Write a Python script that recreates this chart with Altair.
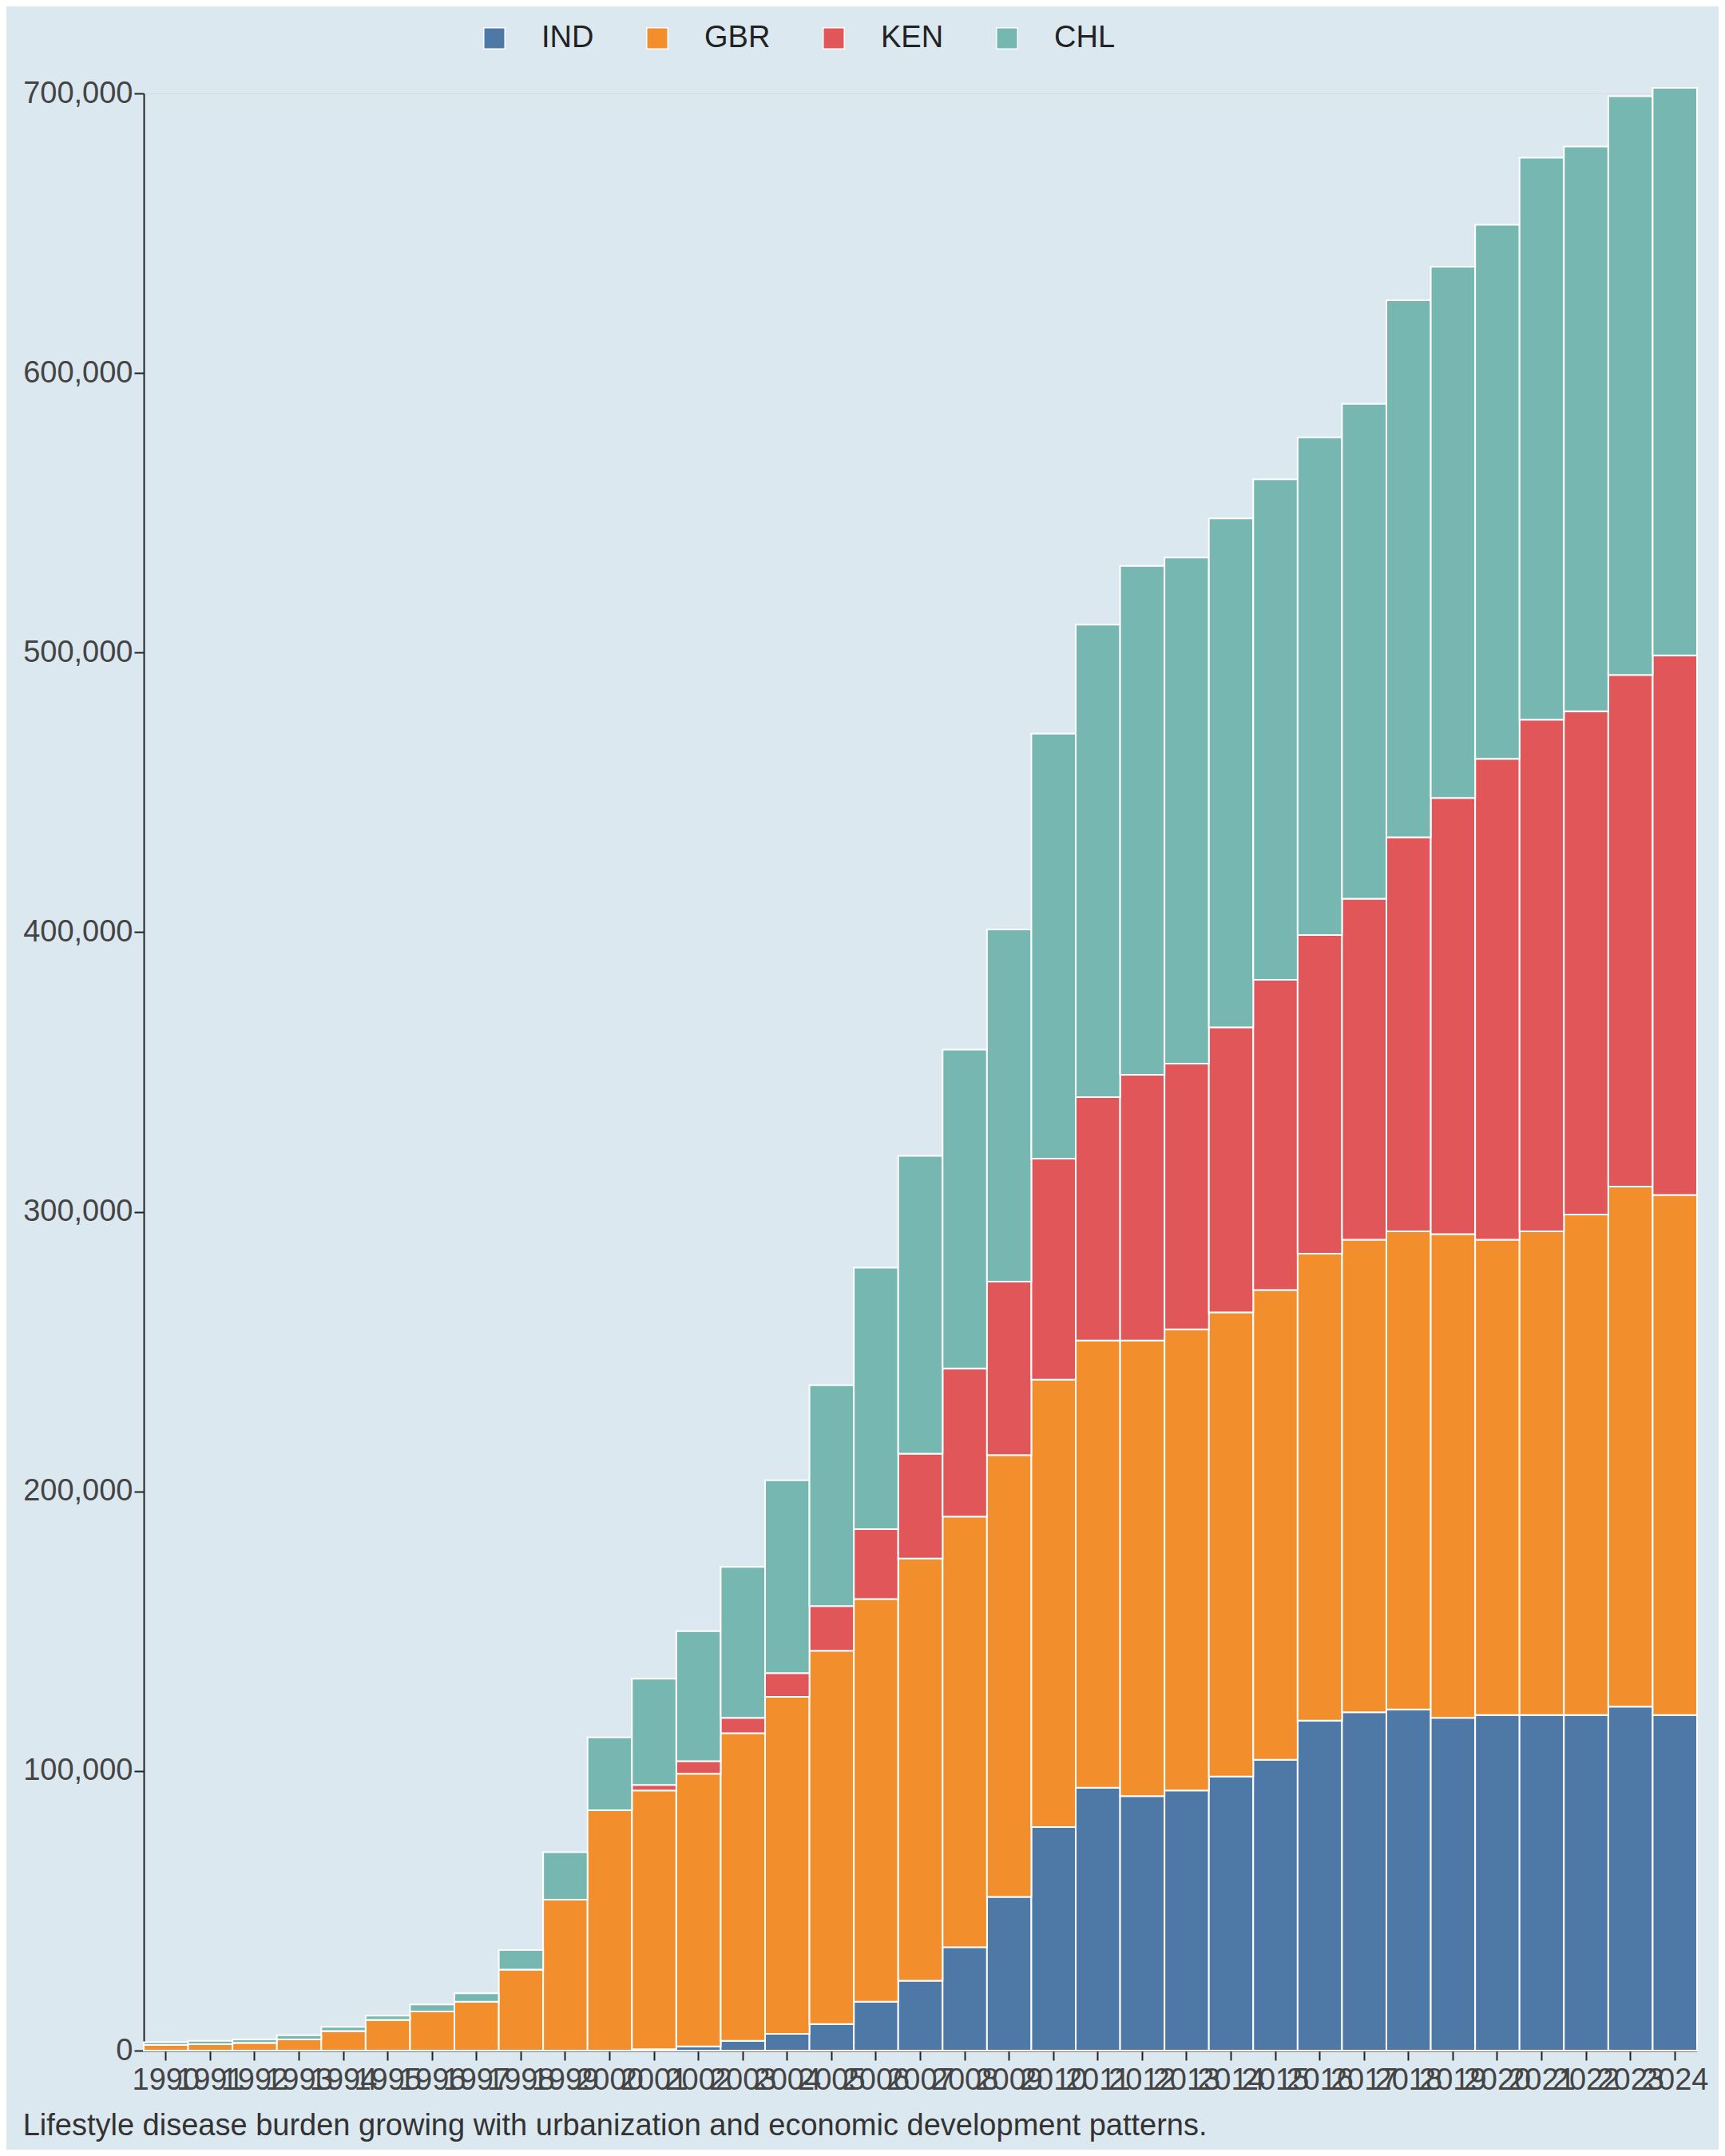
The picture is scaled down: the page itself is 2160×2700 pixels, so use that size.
import altair as alt
import pandas as pd

years = [str(y) for y in range(1990, 2025)]
countries = ["IND", "GBR", "KEN", "CHL"]
colors = ["#4e79a7", "#f28e2b", "#e15759", "#76b7b2"]

# values in thousands
ind = [0, 0, 0, 0, 0, 0, 0, 0, 0, 0, 0, 0.5, 1.5, 3.5, 6, 9.5, 17.5, 25, 37, 55,
       80, 94, 91, 93, 98, 104, 118, 121, 122, 119, 120, 120, 120, 123, 120]
gbr = [2, 2.3, 2.8, 4, 7, 11, 14, 17.5, 29, 54, 86, 92.5, 97.5, 110, 120.5, 133.5,
       144, 151, 154, 158, 160, 160, 163, 165, 166, 168, 167, 169, 171, 173, 170,
       173, 179, 186, 186]
ken = [0, 0, 0, 0, 0, 0, 0, 0, 0, 0, 0, 2, 4.5, 5.5, 8.5, 16, 25, 37.5, 53, 62,
       79, 87, 95, 95, 102, 111, 114, 122, 141, 156, 172, 183, 180, 183, 193]
chl = [1, 1.2, 1.2, 1.5, 1.5, 1.5, 2.5, 3, 7, 17, 26, 38, 46.5, 54, 69, 79, 93.5,
       106.5, 114, 126, 152, 169, 182, 181, 182, 179, 178, 177, 192, 190, 191,
       201, 202, 207, 203]

rows = []
for series, vals in zip(countries, [ind, gbr, ken, chl]):
    for y, v in zip(years, vals):
        rows.append({"year": y, "country": series, "value": v * 1000,
                     "order": countries.index(series)})
df = pd.DataFrame(rows)

font = "Liberation Sans"

chart = alt.Chart(df).mark_bar(stroke="white", strokeWidth=2).encode(
    x=alt.X("year:N", title=None, sort=years,
            scale=alt.Scale(paddingInner=0, paddingOuter=0),
            axis=alt.Axis(labelAngle=0, labelOverlap=False, labelFontSize=38,
                          labelColor="#444", domainColor="#222", tickColor="#222",
                          tickSize=12, labelPadding=6, domainWidth=2, tickWidth=2)),
    y=alt.Y("value:Q", title=None, stack="zero",
            scale=alt.Scale(domain=[0, 700000], nice=False),
            axis=alt.Axis(format=",.0f", grid=False, labelFontSize=38, labelColor="#444",
                          domainColor="#222", tickColor="#222", tickSize=12,
                          values=[0, 100000, 200000, 300000, 400000, 500000, 600000, 700000],
                          domainWidth=2, tickWidth=2)),
    color=alt.Color("country:N", sort=countries,
                    scale=alt.Scale(domain=countries, range=colors),
                    legend=alt.Legend(title=None, orient="none", direction="horizontal",
                                      legendX=420, legendY=-88,
                                      symbolType="square", symbolSize=700,
                                      labelFontSize=38, labelColor="#222",
                                      columnPadding=60, labelOffset=40)),
    order=alt.Order("order:Q"),
).properties(
    width=2144,
    height=2684,
    autosize=alt.AutoSizeParams(type="fit", contains="padding"),
    padding={"top": 90, "left": 20, "right": 15, "bottom": 10},
    background="#dce8f0",
    title=alt.Title(
        "Lifestyle disease burden growing with urbanization and economic development patterns.",
        orient="bottom", anchor="start", fontSize=38, fontWeight="normal",
        color="#333", offset=20, dx=0),
).configure_view(stroke=None).configure(font=font)

chart.save("out.html", embed_options={"renderer": "svg", "actions": False})
